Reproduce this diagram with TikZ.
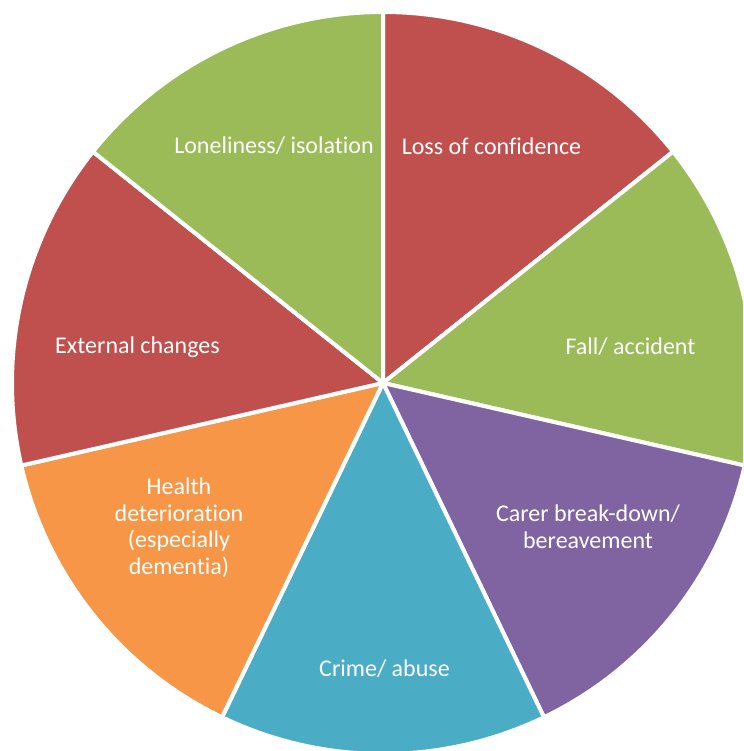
\documentclass[tikz,border=0pt]{standalone}
\usepackage{fontspec}
\setmainfont{Carlito}[Ligatures=NoCommon]
\definecolor{pred}{HTML}{C0504D}
\definecolor{pgreen}{HTML}{9BBB59}
\definecolor{ppurple}{HTML}{8064A2}
\definecolor{pteal}{HTML}{4BACC6}
\definecolor{porange}{HTML}{F79646}
\begin{document}
\begin{tikzpicture}[x=1pt,y=1pt,
  slice/.style={draw=white,line width=4pt,line join=round},
  lbl/.style={text=white,font=\fontsize{24}{26.5}\selectfont,align=center}]
\useasboundingbox (0,0) rectangle (743,751);
\clip (0,0) rectangle (743,751);
\coordinate (c) at (383,368);
\def\R{371}
\foreach \a/\col in {90/pred, 38.5714/pgreen, -12.8571/ppurple, -64.2857/pteal, -115.7143/porange, -167.1429/pred, -218.5714/pgreen}{
  \filldraw[slice,fill=\col] (c) -- ++(\a:\R) arc[start angle=\a, delta angle=-51.4286, radius=\R] -- cycle;
}
\node[lbl] (l1) at (491.5,605) {Loss of confidence};
\node[lbl] (l2) at (274,605) {Loneliness/ isolation};
\node[lbl] (l3) at (630.5,404) {Fall/ accident};
\node[lbl] (l4) at (137.5,404) {External changes};
\node[lbl] (l5) at (588,224) {Carer break-down/\\bereavement};
\node[lbl] (l6) at (179,223) {Health\\deterioration\\(especially\\dementia)};
\node[lbl] (l7) at (384.5,82) {Crime/ abuse};
\end{tikzpicture}
\end{document}
